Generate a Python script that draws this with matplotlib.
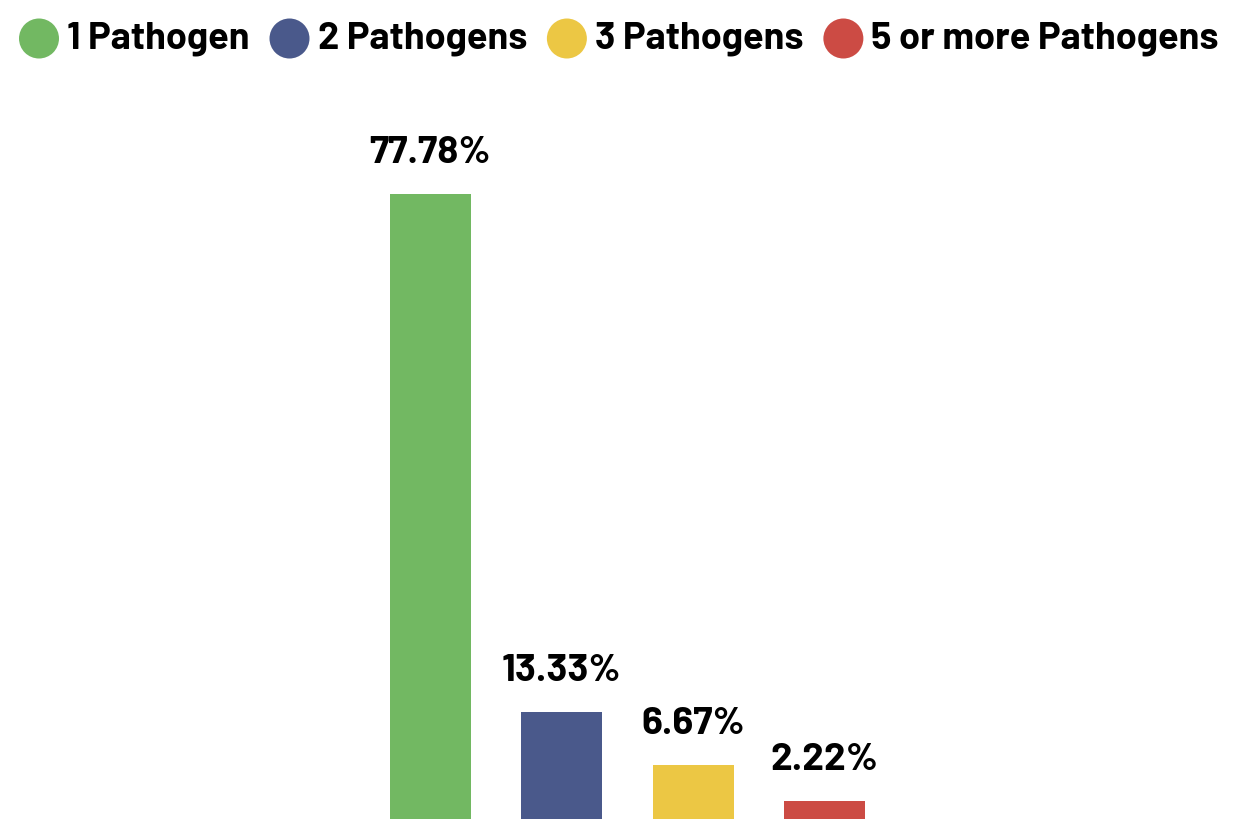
import matplotlib
matplotlib.use("Agg")
import matplotlib.pyplot as plt
from matplotlib.patches import Circle

categories = ["1 Pathogen", "2 Pathogens", "3 Pathogens", "5 or more Pathogens"]
values = [77.78, 13.33, 6.67, 2.22]
colors = ["#72b862", "#4a598b", "#ecc744", "#cc4b44"]

plt.rcParams["font.family"] = ["Barlow", "DejaVu Sans"]

W, H, DPI = 1241, 819, 100
fig = plt.figure(figsize=(W / DPI, H / DPI), dpi=DPI)
ax = fig.add_axes([0, 0, 1, 1])

step = 131.3  # px between bar centers
x0 = 430.5    # px center of first bar
ax.set_xlim(-x0 / step, (W - x0) / step)
ax.set_ylim(0, H / 8.035)

xs = range(len(values))
bars = ax.bar(xs, values, width=81 / step, color=colors)
for b, v in zip(bars, values):
    ax.annotate(f"{v:.2f}%", (b.get_x() + b.get_width() / 2, v),
                xytext=(0, 31), textcoords="offset pixels",
                ha="center", va="baseline", fontsize=28, fontweight="bold")
ax.axis("off")

# legend drawn by hand across the top
fig.canvas.draw()
r = fig.canvas.get_renderer()
x = 19
yc = H - 38.5
d = 40
for lab, c in zip(categories, colors):
    fig.patches.append(Circle((x + d / 2, yc), d / 2, transform=None,
                              facecolor=c, edgecolor="none"))
    t = fig.text(x + d + 8, H - 48, lab, transform=None, ha="left", va="baseline",
                 fontsize=27.3, fontweight="bold")
    bb = t.get_window_extent(r)
    x = bb.x1 + 20

fig.savefig("out.png", dpi=DPI)
